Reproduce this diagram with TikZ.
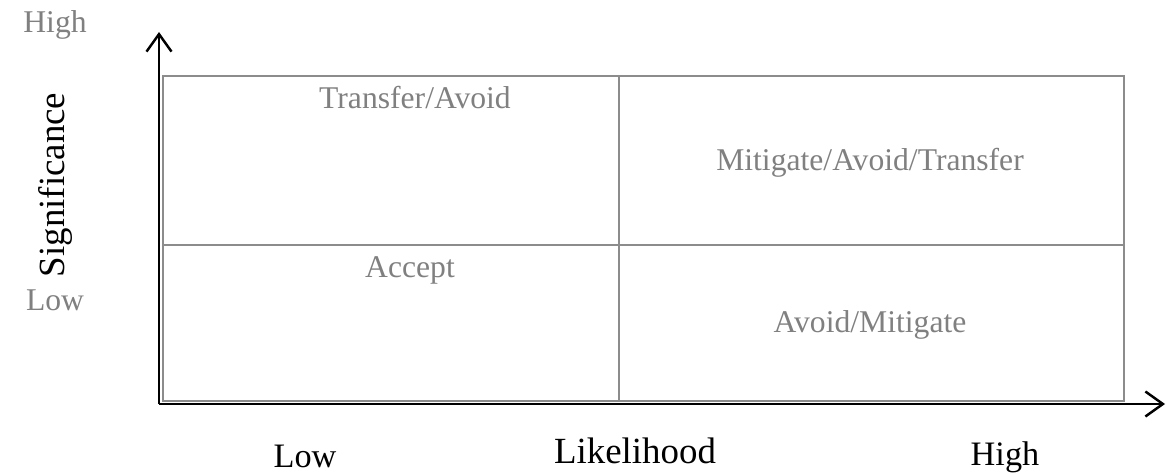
\documentclass[tikz,border=0pt]{standalone}
\usepackage{fontspec}
\setmainfont{Liberation Serif}
\usetikzlibrary{arrows.meta}

\tikzset{
	axis/.style={line width=1.6pt, black, -{Straight Barb[length=3.5mm, width=5mm, line width=1.4pt]}},
	cell/.style={line width=0.8pt, black!45},
	zone/.style={text=black!50, font=\fontsize{18}{20}\selectfont},
	lvl/.style={text=black!50, font=\fontsize{18}{20}\selectfont},
	axlabel/.style={text=black, font=\fontsize{19.5}{21}\selectfont},
	axtitle/.style={text=black, font=\fontsize{21}{23}\selectfont}
}

\begin{document}
\begin{tikzpicture}
		\useasboundingbox (0,0) rectangle (23.32,9.46);

		% Axes
		\coordinate (origin) at (3.18,1.38);
		\coordinate (ytip) at (3.18,8.82);
		\coordinate (xtip) at (23.3,1.38);

		% Grid of the four zones
		\draw[cell] (3.26,1.44) rectangle (22.48,7.94);
		\draw[cell] (12.38,1.44) -- (12.38,7.94);
		\draw[cell] (3.26,4.56) -- (22.48,4.56);

		\draw[axis] (origin) -- (ytip);
		\draw[axis] (origin) -- (xtip);

		% Vertical axis labels
		\node[lvl] (sighigh) at (1.1,8.96) {High};
		\node[lvl] (siglow) at (1.1,3.46) {Low};
		\node[axtitle, rotate=90] (sig) at (1.1,5.76) {Significance};

		% Horizontal axis labels
		\node[axlabel] (liklow) at (6.1,0.34) {Low};
		\node[axtitle] (lik) at (12.7,0.44) {Likelihood};
		\node[axlabel] (likhigh) at (20.1,0.32) {High};

		% Responses
		\node[zone] (transfer) at (8.3,7.5) {Transfer/Avoid};
		\node[zone] (mitigate) at (17.4,6.2) {Mitigate/Avoid/Transfer};
		\node[zone] (accept) at (8.2,4.06) {Accept};
		\node[zone] (avoid) at (17.4,2.96) {Avoid/Mitigate};
	\end{tikzpicture}
\end{document}
